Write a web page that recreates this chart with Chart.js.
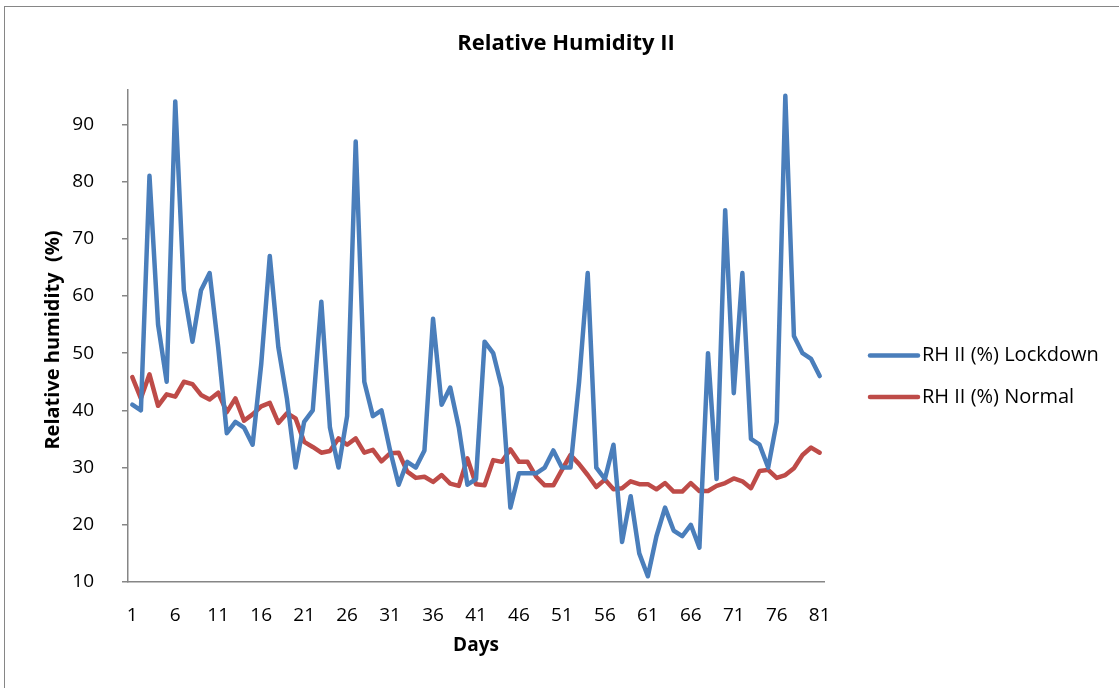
<!DOCTYPE html>
<html>
<head>
<meta charset="utf-8">
<title>Relative Humidity II</title>
<script src="https://cdn.jsdelivr.net/npm/chart.js@4/dist/chart.umd.min.js"></script>
<style>
    html, body { margin: 0; padding: 0; background: #fff; }
    #wrap { width: 1119px; height: 688px; position: relative; }
</style>
</head>
<body>
<div id="wrap"><canvas id="chart" width="1119" height="688"></canvas></div>
<script>
var days = [];
for (var d = 1; d <= 81; d++) { days.push(String(d)); }

var rhLockdown = [41, 40, 81, 55, 45, 94, 61, 52, 61, 64,
    51, 36, 38, 37, 34, 48, 67, 51, 42, 30,
    38, 40, 59, 37, 30, 39, 87, 45, 39, 40,
    33, 27, 31, 30, 33, 56, 41, 44, 37, 27,
    28, 52, 50, 44, 23, 29, 29, 29, 30, 33,
    30, 30, 45, 64, 30, 28, 34, 17, 25, 15,
    11, 18, 23, 19, 18, 20, 16, 50, 28, 75,
    43, 64, 35, 34, 30, 38, 95, 53, 50, 49, 46];

var rhNormal = [45.8, 42.1, 46.3, 40.8, 42.8, 42.4, 45.0, 44.6, 42.7, 41.9,
    43.1, 39.7, 42.1, 38.2, 39.3, 40.7, 41.3, 37.8, 39.5, 38.6,
    34.5, 33.6, 32.6, 32.9, 35.1, 34.0, 35.1, 32.6, 33.1, 31.1,
    32.5, 32.6, 29.3, 28.2, 28.4, 27.5, 28.7, 27.2, 26.8, 31.6,
    27.1, 26.9, 31.3, 31.0, 33.2, 31.0, 31.0, 28.4, 26.9, 26.9,
    29.6, 32.2, 30.6, 28.7, 26.6, 27.9, 26.2, 26.4, 27.6, 27.1,
    27.1, 26.2, 27.3, 25.8, 25.8, 27.3, 25.9, 25.9, 26.8, 27.3,
    28.1, 27.6, 26.4, 29.4, 29.6, 28.2, 28.7, 29.9, 32.2, 33.5, 32.6];

var yTicks = [10, 20, 30, 40, 50, 60, 70, 80, 90];

var FONT = "'Open Sans', 'Noto Sans', sans-serif";
var AXIS_COLOR = '#868686';

// title, axis titles, legend and frame drawn by hand to sit where the reference has them
var decorPlugin = {
    id: 'decor',
    beforeDraw: function (chart) {
        var ctx = chart.ctx;
        ctx.save();
        ctx.fillStyle = '#fff';
        ctx.fillRect(0, 0, chart.width, chart.height);
        ctx.strokeStyle = AXIS_COLOR;
        ctx.lineWidth = 1;
        ctx.strokeRect(4.5, 6.5, chart.width + 20, chart.height + 20);
        ctx.restore();
    },
    afterDraw: function (chart) {
        var ctx = chart.ctx;
        ctx.save();
        ctx.fillStyle = '#000';
        ctx.textAlign = 'center';
        ctx.textBaseline = 'middle';
        ctx.font = 'bold 22px ' + FONT;
        ctx.fillText('Relative Humidity II', 566, 44);

        ctx.font = 'bold 19px ' + FONT;
        ctx.fillText('Days', 476, 646);

        ctx.save();
        ctx.translate(53, 340);
        ctx.rotate(-Math.PI / 2);
        ctx.font = 'bold 20px ' + FONT;
        ctx.fillText('Relative humidity  (%)', 0, 0);
        ctx.restore();

        ctx.textAlign = 'left';
        ctx.font = '20px ' + FONT;
        var rows = [355.5, 397];
        chart.data.datasets.forEach(function (ds, i) {
            ctx.strokeStyle = ds.borderColor;
            ctx.lineWidth = 4.5;
            ctx.lineCap = 'round';
            ctx.beginPath();
            ctx.moveTo(870, rows[i]);
            ctx.lineTo(918, rows[i]);
            ctx.stroke();
            ctx.fillStyle = '#000';
            ctx.fillText(ds.label, 922, rows[i]);
        });
        ctx.restore();
    }
};

var ctx = document.getElementById('chart').getContext('2d');
var chart = new Chart(ctx, {
    type: 'line',
    data: {
        labels: days,
        datasets: [{
            label: 'RH II (%) Lockdown',
            data: rhLockdown,
            borderColor: '#4A7EBB',
            backgroundColor: '#4A7EBB',
            borderWidth: 4.5,
            pointRadius: 0,
            tension: 0,
            borderJoinStyle: 'round',
            borderCapStyle: 'round'
        }, {
            label: 'RH II (%) Normal',
            data: rhNormal,
            borderColor: '#BE4B48',
            backgroundColor: '#BE4B48',
            borderWidth: 4.5,
            pointRadius: 0,
            tension: 0,
            borderJoinStyle: 'round',
            borderCapStyle: 'round'
        }]
    },
    options: {
        responsive: false,
        animation: false,
        layout: { padding: { top: 90, right: 295, bottom: 0, left: 0 } },
        plugins: {
            legend: { display: false },
            title: { display: false },
            tooltip: { enabled: false }
        },
        scales: {
            x: {
                offset: true,
                grid: { display: false, drawTicks: false },
                border: { display: true, color: AXIS_COLOR, width: 1.5 },
                ticks: {
                    autoSkip: false,
                    maxRotation: 0,
                    padding: 22,
                    color: '#000',
                    font: { family: FONT, size: 19 },
                    callback: function (val, i) { return i % 5 === 0 ? days[i] : ''; }
                },
                afterFit: function (scale) { scale.height = 106; }
            },
            y: {
                min: 10,
                max: 96,
                grid: { drawOnChartArea: false, drawTicks: true, tickLength: 6, color: AXIS_COLOR, lineWidth: 1.5 },
                border: { display: true, color: AXIS_COLOR, width: 1.5 },
                ticks: {
                    stepSize: 10,
                    padding: 28,
                    color: '#000',
                    font: { family: FONT, size: 19 }
                },
                afterBuildTicks: function (scale) {
                    scale.ticks = yTicks.map(function (v) { return { value: v }; });
                },
                afterFit: function (scale) { scale.width = 128; }
            }
        }
    },
    plugins: [decorPlugin]
});
</script>
</body>
</html>
